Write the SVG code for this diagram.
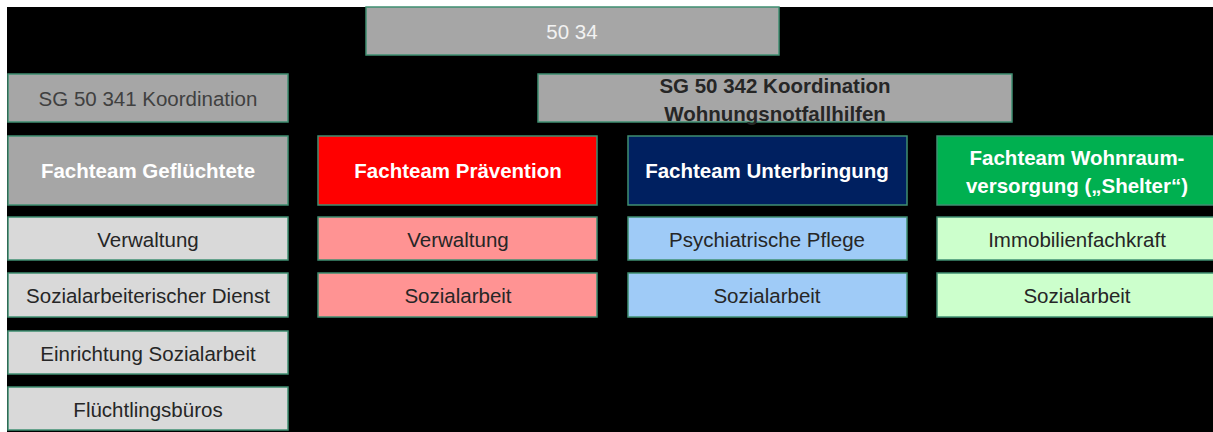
<svg xmlns="http://www.w3.org/2000/svg" width="1213" height="432" viewBox="0 0 1213 432">
<style>
.box{stroke:#3f8f72;stroke-width:1.5}
.t{font-family:"Liberation Sans",Arial,sans-serif;font-size:20.5px;text-anchor:middle;dominant-baseline:central}
.h{font-weight:bold;fill:#ffffff}
.d{fill:#262626}
.grey{fill:#a6a6a6}.lgrey{fill:#d9d9d9}
.red{fill:#ff0000}.lred{fill:#ff9393}
.navy{fill:#002060}.lblue{fill:#9fcbf7}
.green{fill:#00b050}.lgreen{fill:#ccffcc}
</style>
<rect x="0" y="0" width="1213" height="432" fill="#ffffff"/>
<rect x="7" y="7" width="1206" height="425" fill="#000000"/>
<g id="connectors"/>
<g id="n5034"><rect class="box grey" x="366" y="7" width="413" height="48"/><text class="t" x="572" y="31" fill="#f2f2f2">50 34</text></g>
<g id="sg341"><rect class="box grey" x="8" y="74" width="280" height="48"/><text class="t" x="148" y="98" fill="#404040">SG 50 341 Koordination</text></g>
<g id="sg342"><rect class="box grey" x="538" y="74" width="474" height="48"/><text class="t d" x="775" y="85" font-weight="bold">SG 50 342 Koordination</text><text class="t d" x="775" y="113" font-weight="bold">Wohnungsnotfallhilfen</text></g>
<g id="ftGefl"><rect class="box grey" x="8" y="136" width="280" height="69"/><text class="t h" x="148" y="170">Fachteam Geflüchtete</text></g>
<g id="gVerw"><rect class="box lgrey" x="8" y="217" width="280" height="43"/><text class="t d" x="148" y="239">Verwaltung</text></g>
<g id="gSozD"><rect class="box lgrey" x="8" y="273" width="280" height="44"/><text class="t d" x="148" y="295">Sozialarbeiterischer Dienst</text></g>
<g id="gEinr"><rect class="box lgrey" x="8" y="331" width="280" height="43"/><text class="t d" x="148" y="353">Einrichtung Sozialarbeit</text></g>
<g id="gFlue"><rect class="box lgrey" x="8" y="387" width="280" height="43"/><text class="t d" x="148" y="409">Flüchtlingsbüros</text></g>
<g id="ftPraev"><rect class="box red" x="318" y="136" width="279" height="69"/><text class="t h" x="458" y="170">Fachteam Prävention</text></g>
<g id="pVerw"><rect class="box lred" x="318" y="217" width="279" height="43"/><text class="t d" x="458" y="239">Verwaltung</text></g>
<g id="pSoz"><rect class="box lred" x="318" y="273" width="279" height="44"/><text class="t d" x="458" y="295">Sozialarbeit</text></g>
<g id="ftUnter"><rect class="box navy" x="628" y="136" width="279" height="69"/><text class="t h" x="767" y="170">Fachteam Unterbringung</text></g>
<g id="uPsy"><rect class="box lblue" x="628" y="217" width="279" height="43"/><text class="t d" x="767" y="239">Psychiatrische Pflege</text></g>
<g id="uSoz"><rect class="box lblue" x="628" y="273" width="279" height="44"/><text class="t d" x="767" y="295">Sozialarbeit</text></g>
<g id="ftWohn"><rect class="box green" x="937" y="136" width="280" height="69"/><text class="t h" x="1077" y="157">Fachteam Wohnraum-</text><text class="t h" x="1077" y="185">versorgung („Shelter“)</text></g>
<g id="wImmo"><rect class="box lgreen" x="937" y="217" width="280" height="43"/><text class="t d" x="1077" y="239">Immobilienfachkraft</text></g>
<g id="wSoz"><rect class="box lgreen" x="937" y="273" width="280" height="44"/><text class="t d" x="1077" y="295">Sozialarbeit</text></g>
</svg>
